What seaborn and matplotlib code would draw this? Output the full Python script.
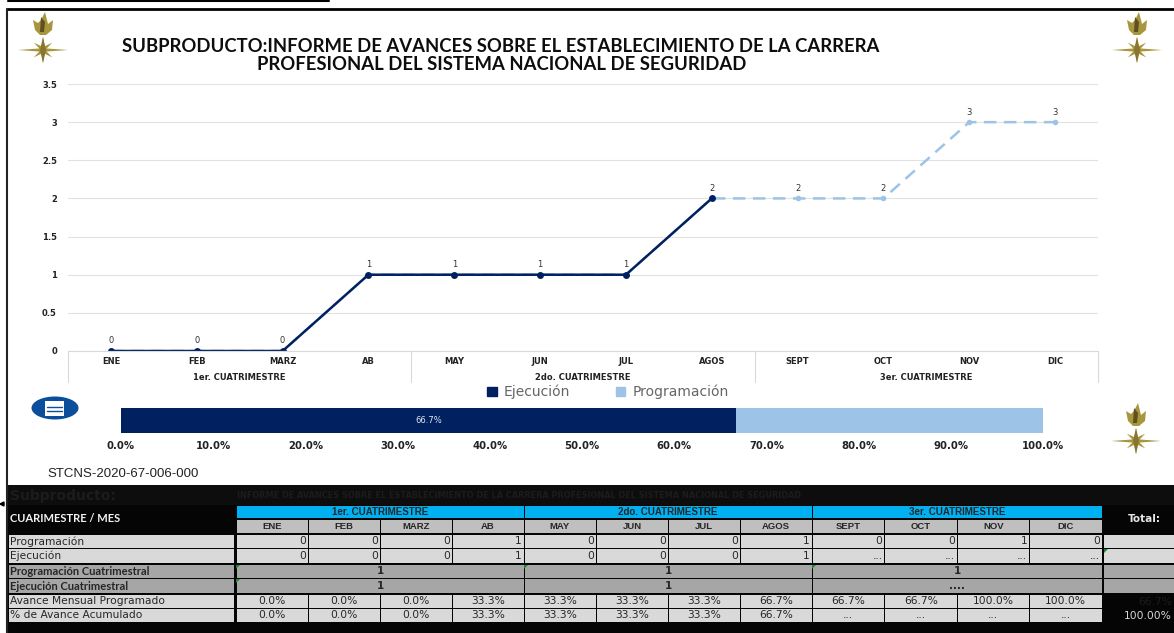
import numpy as np
import pandas as pd
import matplotlib
matplotlib.use("Agg")
import matplotlib.pyplot as plt
from matplotlib.patches import Rectangle, Polygon, Ellipse, Patch
import seaborn as sns

# datos
meses = ["ENE", "FEB", "MARZ", "AB", "MAY", "JUN", "JUL", "AGOS", "SEPT", "OCT", "NOV", "DIC"]
cuatrimestres = ["1er. CUATRIMESTRE", "2do. CUATRIMESTRE", "3er. CUATRIMESTRE"]
ejecucion = [0, 0, 0, 1, 1, 1, 1, 2, None, None, None, None]
programacion = [0, 0, 0, 1, 1, 1, 1, 2, 2, 2, 3, 3]
avance_ejecutado = 66.7
avance_total = 100.0

fila_programacion = ["0", "0", "0", "1", "0", "0", "0", "1", "0", "0", "1", "0"]
fila_ejecucion = ["0", "0", "0", "1", "0", "0", "0", "1", "...", "...", "...", "..."]
fila_prog_cuat = ["1", "1", "1"]
fila_ejec_cuat = ["1", "1", "...."]
fila_mensual = ["0.0%", "0.0%", "0.0%", "33.3%", "33.3%", "33.3%", "33.3%", "66.7%",
                "66.7%", "66.7%", "100.0%", "100.0%"]
fila_acumulado = ["0.0%", "0.0%", "0.0%", "33.3%", "33.3%", "33.3%", "33.3%", "66.7%",
                  "...", "...", "...", "..."]

titulo = ["SUBPRODUCTO:INFORME DE AVANCES SOBRE EL ESTABLECIMIENTO DE LA CARRERA",
          "PROFESIONAL DEL SISTEMA NACIONAL DE SEGURIDAD"]
subproducto = ("INFORME DE AVANCES SOBRE EL ESTABLECIMIENTO DE LA CARRERA "
               "PROFESIONAL DEL SISTEMA NACIONAL DE SEGURIDAD")

NAVY = "#002060"
CLARO = "#9dc3e6"
W, H = 1174, 633

sns.set_style("white")
plt.rcParams["font.family"] = ["DejaVu Sans"]
fig = plt.figure(figsize=(W / 100, H / 100), dpi=100)


def caja(x0, y0, x1, y1):
    return [x0 / W, 1 - y1 / H, (x1 - x0) / W, (y1 - y0) / H]


# capa de fondo en pixeles
bg = fig.add_axes([0, 0, 1, 1], zorder=0)
bg.set_xlim(0, W)
bg.set_ylim(H, 0)
bg.axis("off")

# marco
bg.plot([8, 329], [1, 1], color="black", lw=1.5)
bg.plot([7, 1174], [9, 9], color="black", lw=2)
bg.plot([7, 7], [9, 633], color="#222222", lw=1.5)
bg.add_patch(Polygon([[0, 504], [4, 502], [4, 506]], color="black"))


def emblema(cx, cy):
    oro = "#a8963c"
    # estrella
    pts = []
    radios = [25, 4, 13, 4, 13, 4, 13, 4, 25, 4, 13, 4, 13, 4, 13, 4]
    altos = [0.55, 1, 0.8, 1, 1.0, 1, 0.8, 1, 0.55, 1, 0.8, 1, 1.0, 1, 0.8, 1]
    for i, (r, k) in enumerate(zip(radios, altos)):
        ang = i * np.pi / 8
        pts.append([cx + r * np.cos(ang), cy + r * np.sin(ang) * k])
    bg.add_patch(Polygon(pts, color=oro, lw=0))
    bg.add_patch(Polygon([[cx - 3, cy], [cx, cy - 13], [cx + 3, cy], [cx, cy + 13]], color="#8a7530", lw=0))
    # llama y copa
    bg.add_patch(Polygon([[cx - 10, cy - 30], [cx - 8, cy - 20], [cx - 3, cy - 15], [cx + 3, cy - 15],
                          [cx + 9, cy - 20], [cx + 10, cy - 30], [cx + 5, cy - 26], [cx + 2, cy - 38],
                          [cx - 2, cy - 30], [cx - 5, cy - 27]], color=oro, lw=0))
    bg.add_patch(Polygon([[cx - 2, cy - 33], [cx + 2, cy - 28], [cx + 1, cy - 18], [cx - 3, cy - 18]],
                         color="#5f4f20", lw=0))


emblema(43, 50)
emblema(1137, 50)
emblema(1136, 441)

# icono
bg.add_patch(Ellipse((55, 408), 47, 23, color="#0b4f9c", lw=0))
bg.add_patch(Rectangle((45, 401), 19, 15, color="white", lw=0))
bg.plot([47, 62], [407, 407], color="#0b4f9c", lw=1)
bg.plot([47, 62], [411, 411], color="#0b4f9c", lw=1)

# titulo y pie
bg.text(501, 46, titulo[0], ha="center", va="center", fontsize=13.3, fontweight="bold",
        family="Lato", color="#0d0d0d")
bg.text(502, 65, titulo[1], ha="center", va="center", fontsize=13.3, fontweight="bold",
        family="Lato", color="#0d0d0d")
bg.text(47, 474, "STCNS-2020-67-006-000", ha="left", va="center", fontsize=9.5, family="Liberation Sans",
        color="#222222")

# grafica de lineas
df = pd.DataFrame({"mes": meses, "ejecucion": ejecucion, "programacion": programacion})
df["ejecucion"] = df["ejecucion"].astype(float)

ax = fig.add_axes(caja(68, 84, 1098, 351), zorder=2)
ax.patch.set_alpha(0)
sns.lineplot(data=df, x="mes", y="programacion", sort=False, ax=ax, color=CLARO, lw=1.8,
             linestyle=(0, (5, 3)), marker="o", markersize=4, markeredgewidth=0, errorbar=None)
sns.lineplot(data=df, x="mes", y="ejecucion", sort=False, ax=ax, color=NAVY, lw=1.8,
             marker="o", markersize=5, markeredgewidth=0, errorbar=None)
ax.set_xlim(-0.5, 11.5)
ax.set_ylim(0, 3.5)
ax.set_yticks(np.arange(0, 4, 0.5))
ax.set_yticklabels(["0", "0.5", "1", "1.5", "2", "2.5", "3", "3.5"], fontsize=6, fontweight="bold", color="#222222")
ax.set_xlabel("")
ax.set_ylabel("")
ax.tick_params(axis="both", length=0)
ax.tick_params(axis="x", pad=4.5, labelsize=6)
ax.tick_params(axis="y", pad=8)
for lab in ax.get_xticklabels():
    lab.set_fontweight("bold")
    lab.set_color("#222222")
ax.grid(axis="y", color="#e2e2e2", lw=0.8)
ax.set_axisbelow(True)
for s in ["top", "right", "left"]:
    ax.spines[s].set_visible(False)
ax.spines["bottom"].set_color("#d9d9d9")
for i, v in enumerate(programacion):
    ax.annotate(str(v), (i, v), xytext=(0, 5.5), textcoords="offset points", ha="center", fontsize=6,
                color="#333333", annotation_clip=False)
# separadores de cuatrimestre
trans = ax.get_xaxis_transform()
for xs in [-0.5, 3.5, 7.5, 11.5]:
    ax.plot([xs, xs], [0, -31 / 267], transform=trans, color="#d9d9d9", lw=0.8, clip_on=False)
for i, c in enumerate(cuatrimestres):
    ax.text(1.5 + 4 * i, -27 / 267, c, transform=trans, ha="center", va="center", fontsize=6,
            fontweight="bold", color="#222222")

# leyenda
fig.legend(handles=[Patch(color=NAVY), Patch(color=CLARO)], labels=["Ejecución", "Programación"],
           ncol=2, frameon=False, loc="center", bbox_to_anchor=(608 / W, 1 - 392 / H),
           fontsize=10, labelcolor="#666666", handlelength=0.7, handleheight=0.7,
           handletextpad=0.5, columnspacing=3.25)

# barra de avance
axb = fig.add_axes(caja(121, 408, 1043, 433), zorder=2)
sns.barplot(x=[avance_total], y=["avance"], color=CLARO, saturation=1, width=1, ax=axb, linewidth=0)
sns.barplot(x=[avance_ejecutado], y=["avance"], color=NAVY, saturation=1, width=1, ax=axb, linewidth=0)
axb.set_xlim(0, 100)
axb.set_xticks(np.arange(0, 101, 10))
axb.set_xticklabels([f"{v:.1f}%" for v in np.arange(0, 101, 10)], fontsize=7.3, fontweight="bold", color="#222222")
axb.set_yticks([])
axb.set_ylabel("")
axb.tick_params(axis="x", length=0, pad=5.5)
sns.despine(ax=axb, left=True, bottom=True)
axb.text(avance_ejecutado / 2, 0, f"{avance_ejecutado}%", ha="center", va="center", fontsize=6, color="#dfe6f2")

# tabla
bg.add_patch(Rectangle((8, 485), W - 8, H - 485, color="#050505", lw=0))
bg.add_patch(Rectangle((8, 485), W - 8, 20, color="#0d0d0d", lw=0))
bg.text(10, 496, "Subproducto:", fontsize=10, va="center", color="#1c1c1c", fontweight="bold")
bg.text(237, 496, subproducto, fontsize=5.85, va="center", color="#1c1c1c", fontweight="bold")

cols = [236 + 72 * i for i in range(9)] + [812 + 72.5 * i for i in range(1, 5)]
GRIS = "#d9d9d9"
OSC = "#a6a6a6"
HDR = "#bfbfbf"
TXT = "#262626"


def celda(x0, y0, x1, y1, color, txt="", ha="center", size=8, weight="normal", fam="DejaVu Sans", tc=TXT):
    bg.add_patch(Rectangle((x0 + 0.5, y0), x1 - x0 - 1, y1 - y0, color=color, lw=0))
    if txt:
        xt = {"center": (x0 + x1) / 2, "left": x0 + 2, "right": x1 - 2}[ha]
        bg.text(xt, (y0 + y1) / 2, txt, ha=ha, va="center", fontsize=size, fontweight=weight,
                family=fam, color=tc)


for i, c in enumerate(cuatrimestres):
    celda(cols[4 * i], 506, cols[4 * i + 4], 518, "#00b0f0", c, size=7, weight="bold", fam="Liberation Sans")
    celda(cols[4 * i], 565, cols[4 * i + 4], 578, OSC, fila_prog_cuat[i], size=7.5, weight="bold")
    celda(cols[4 * i], 579, cols[4 * i + 4], 593, OSC, fila_ejec_cuat[i], size=7.5, weight="bold")

filas = [(535, 548, "Programación", fila_programacion, "right"),
         (549, 563, "Ejecución", fila_ejecucion, "right"),
         (595, 608, "Avance Mensual Programado", fila_mensual, "center"),
         (609, 622, "% de Avance Acumulado", fila_acumulado, "center")]
for y0, y1, nombre, vals, ha in filas:
    celda(8, y0, 234, y1, GRIS, nombre, ha="left", size=7.7)
    for i, v in enumerate(vals):
        celda(cols[i], y0, cols[i + 1], y1, GRIS, v, ha=ha, size=7.7)
for i, m in enumerate(meses):
    celda(cols[i], 520, cols[i + 1], 533, HDR, m, size=6.8, weight="bold", fam="Liberation Sans")

celda(8, 565, 234, 578, OSC, "Programación Cuatrimestral", ha="left", size=8, weight="bold", fam="Lato")
celda(8, 579, 234, 593, OSC, "Ejecución Cuatrimestral", ha="left", size=8, weight="bold", fam="Lato")
bg.text(10, 519, "CUARIMESTRE / MES", fontsize=8, fontweight="bold", family="Lato",
        color="#f2f2f2", va="center")

# columna total
bg.text(1144, 519, "Total:", ha="center", va="center", fontsize=7.5, fontweight="bold", color="#e6e6e6")
for y0, y1, color in [(535, 548, GRIS), (549, 563, GRIS), (565, 578, OSC), (579, 593, OSC)]:
    bg.add_patch(Rectangle((1104, y0), W - 1104, y1 - y0, color=color, lw=0))
bg.text(1172, 602, "66.7%", ha="right", va="center", fontsize=7.7, color="#1c1c1c")
bg.text(1172, 616, "100.00%", ha="right", va="center", fontsize=7.7, color="#d9d9d9")

# marcas verdes
for px, py in [(236, 565), (524, 565), (812, 565), (236, 579), (1104, 549)]:
    bg.add_patch(Polygon([[px, py], [px + 4, py], [px, py + 4]], color="#1e8a2e", lw=0))

fig.savefig("out.png", dpi=100)
